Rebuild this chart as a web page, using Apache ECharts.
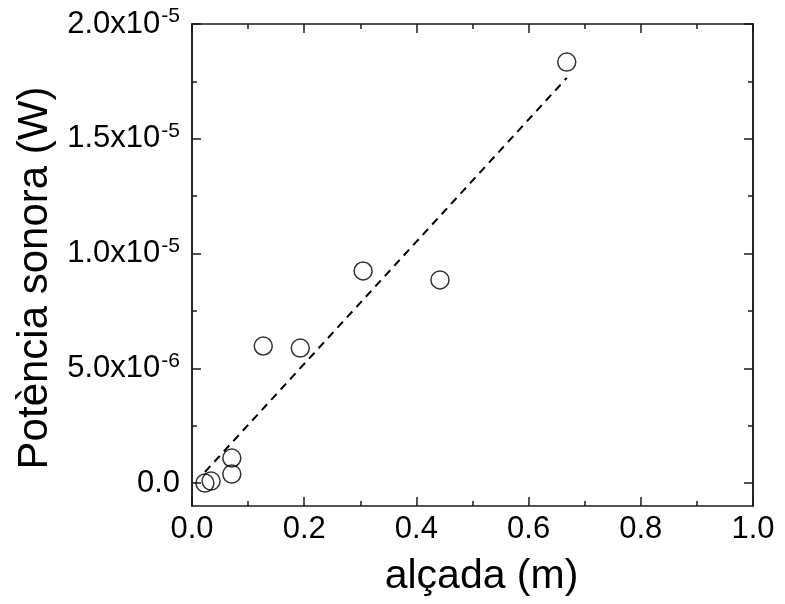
<!DOCTYPE html>
<html>
<head>
<meta charset="utf-8">
<script src="https://cdn.jsdelivr.net/npm/echarts@6/dist/echarts.min.js"></script>
<style>
html,body{margin:0;padding:0;background:#fff;}
#chart{width:785px;height:604px;}
</style>
</head>
<body>
<div id="chart"></div>
<script>
// ---- data ----
var alcada = [0.668, 0.305, 0.442, 0.127, 0.193, 0.071, 0.071, 0.023, 0.034];
var potencia = [1.834e-5, 9.24e-6, 8.85e-6, 5.97e-6, 5.88e-6, 1.09e-6, 3.9e-7, 0.0, 8.7e-8];
var fitX = [0.023, 0.668];
var fitY = [4.8e-7, 1.765e-5];
var yTickValues = [0, 5e-6, 1e-5, 1.5e-5, 2e-5];
var yTickMantissa = ['0.0', '5.0x10', '1.0x10', '1.5x10', '2.0x10'];
var yTickExponent = ['', '-6', '-5', '-5', '-5'];
var yMinorValues = [2.5e-6, 7.5e-6, 1.25e-5, 1.75e-5];
var xTickLabels = ['0.0', '0.2', '0.4', '0.6', '0.8', '1.0'];

var FONT = '"Liberation Sans", Arial, sans-serif';
var AX = '#1a1a1a';

var scatterData = alcada.map(function (x, i) { return [x, potencia[i]]; });
var fitData = fitX.map(function (x, i) { return [x, fitY[i]]; });

function yLabel(v) {
  for (var i = 0; i < yTickValues.length; i++) {
    if (Math.abs(v - yTickValues[i]) < 1e-12) {
      if (yTickExponent[i] === '') return '{m|' + yTickMantissa[i] + '}';
      return '{m|' + yTickMantissa[i] + '}{e|' + yTickExponent[i] + '}';
    }
  }
  return '';
}

var baseX = {
  type: 'value', min: 0, max: 1, interval: 0.2,
  axisLine: { show: true, onZero: false, lineStyle: { color: AX, width: 1.5 } },
  axisTick: { show: true, inside: true, length: 9, lineStyle: { color: AX, width: 1.5 } },
  minorTick: { show: true, splitNumber: 2, length: 5, lineStyle: { color: AX, width: 1.5 } },
  splitLine: { show: false }, minorSplitLine: { show: false }
};

function yAxisDef(pos, ticks, len, labels) {
  return {
    type: 'value', min: -1e-6, max: 2e-5, position: pos,
    axisLine: { show: true, onZero: false, lineStyle: { color: AX, width: 1.5 } },
    axisTick: { show: true, inside: true, length: len, customValues: ticks, lineStyle: { color: AX, width: 1.5 } },
    axisLabel: labels ? {
      show: true, customValues: yTickValues, margin: 12, formatter: yLabel,
      rich: {
        m: { fontFamily: FONT, fontSize: 31, color: '#000', lineHeight: 36 },
        e: { fontFamily: FONT, fontSize: 21, color: '#000', verticalAlign: 'top', lineHeight: 22, padding: [0, 0, 30, 1] }
      }
    } : { show: false },
    splitLine: { show: false },
    name: labels ? 'Potència sonora (W)' : '',
    nameLocation: 'middle', nameGap: 128,
    nameTextStyle: { fontFamily: FONT, fontSize: 42, color: '#000', padding: [0, 26, 0, 0] }
  };
}

var chart = echarts.init(document.getElementById('chart'), null, { renderer: 'canvas' });
chart.setOption({
  animation: false,
  backgroundColor: '#fff',
  grid: { left: 192, right: 32, top: 24, bottom: 98, containLabel: false },
  xAxis: [
    Object.assign({}, baseX, {
      position: 'bottom',
      axisLabel: { show: true, margin: 8, fontFamily: FONT, fontSize: 31, color: '#000',
        formatter: function (v) { return xTickLabels[Math.round(v / 0.2)]; } },
      name: 'alçada (m)', nameLocation: 'middle', nameGap: 50,
      nameTextStyle: { fontFamily: FONT, fontSize: 41, color: '#000', padding: [0, 0, 0, 18] }
    }),
    Object.assign({}, baseX, { position: 'top', axisLabel: { show: false } })
  ],
  yAxis: [
    yAxisDef('left', yTickValues, 9, true),
    yAxisDef('left', yMinorValues, 5, false),
    yAxisDef('right', yTickValues, 9, false),
    yAxisDef('right', yMinorValues, 5, false)
  ],
  series: [
    {
      type: 'line', xAxisIndex: 0, yAxisIndex: 0, data: fitData,
      symbol: 'none', z: 2,
      lineStyle: { color: '#000', width: 2, type: [8, 6] }
    },
    {
      type: 'scatter', xAxisIndex: 0, yAxisIndex: 0, data: scatterData,
      symbol: 'circle', symbolSize: 18, z: 3,
      itemStyle: { color: 'rgba(0,0,0,0)', borderColor: '#000', borderWidth: 1.5 }
    }
  ]
});
</script>
</body>
</html>
